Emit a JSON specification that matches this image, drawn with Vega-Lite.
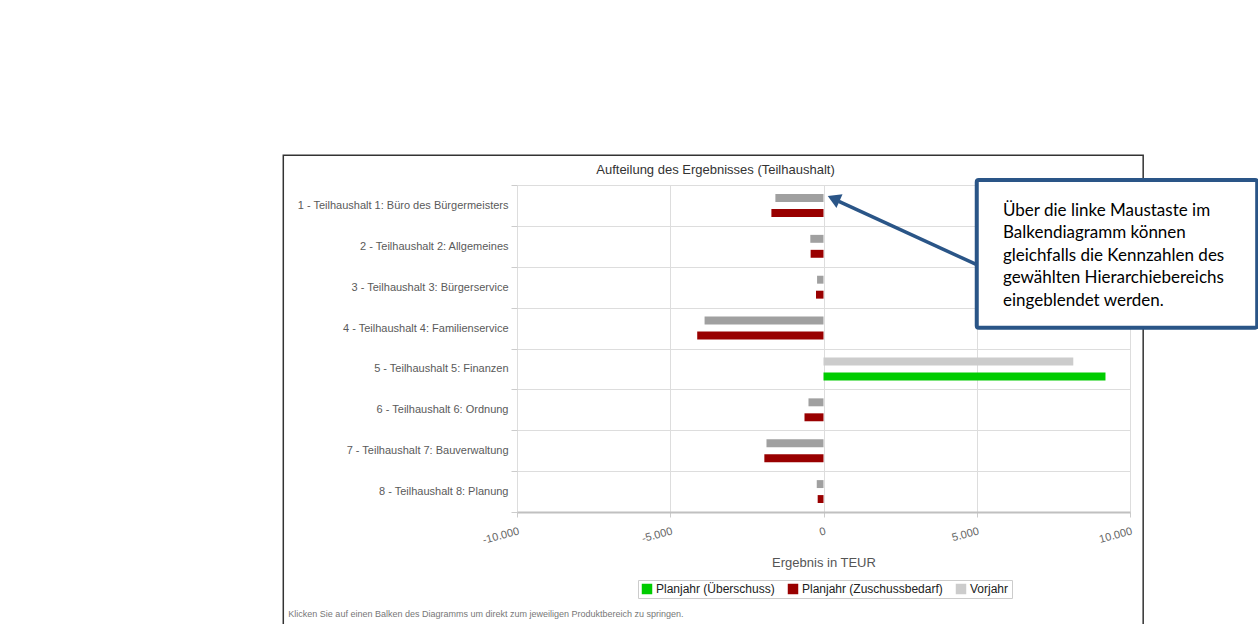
{
  "$schema": "https://vega.github.io/schema/vega-lite/v6.json",
  "width": 613,
  "height": 327,
  "autosize": {"type": "none"},
  "padding": {"left": 517, "top": 185, "right": 128, "bottom": 112},
  "background": "white",
  "config": {
    "locale": {"number": {"decimal": ",", "thousands": ".", "grouping": [3], "currency": ["", " €"], "minus": "-"}},
    "view": {"stroke": null},
    "font": "Liberation Sans"
  },
  "title": {
    "text": "Aufteilung des Ergebnisses (Teilhaushalt)",
    "anchor": "middle",
    "frame": "group",
    "dx": -108,
    "dy": 46,
    "offset": 10,
    "baseline": "bottom",
    "fontSize": 13,
    "fontWeight": "normal",
    "color": "#333333",
    "font": "Liberation Sans"
  },
  "layer": [
    {
      "data": {
        "values": [
          {"bereich": "1 - Teilhaushalt 1: Büro des Bürgermeisters", "zeitraum": "Vorjahr", "serie": "Vorjahr (Zuschussbedarf)", "wert": -1570},
          {"bereich": "1 - Teilhaushalt 1: Büro des Bürgermeisters", "zeitraum": "Planjahr", "serie": "Planjahr (Zuschussbedarf)", "wert": -1700},
          {"bereich": "2 - Teilhaushalt 2: Allgemeines", "zeitraum": "Vorjahr", "serie": "Vorjahr (Zuschussbedarf)", "wert": -430},
          {"bereich": "2 - Teilhaushalt 2: Allgemeines", "zeitraum": "Planjahr", "serie": "Planjahr (Zuschussbedarf)", "wert": -420},
          {"bereich": "3 - Teilhaushalt 3: Bürgerservice", "zeitraum": "Vorjahr", "serie": "Vorjahr (Zuschussbedarf)", "wert": -210},
          {"bereich": "3 - Teilhaushalt 3: Bürgerservice", "zeitraum": "Planjahr", "serie": "Planjahr (Zuschussbedarf)", "wert": -245},
          {"bereich": "4 - Teilhaushalt 4: Familienservice", "zeitraum": "Vorjahr", "serie": "Vorjahr (Zuschussbedarf)", "wert": -3880},
          {"bereich": "4 - Teilhaushalt 4: Familienservice", "zeitraum": "Planjahr", "serie": "Planjahr (Zuschussbedarf)", "wert": -4120},
          {"bereich": "5 - Teilhaushalt 5: Finanzen", "zeitraum": "Vorjahr", "serie": "Vorjahr", "wert": 8150},
          {"bereich": "5 - Teilhaushalt 5: Finanzen", "zeitraum": "Planjahr", "serie": "Planjahr (Überschuss)", "wert": 9200},
          {"bereich": "6 - Teilhaushalt 6: Ordnung", "zeitraum": "Vorjahr", "serie": "Vorjahr (Zuschussbedarf)", "wert": -490},
          {"bereich": "6 - Teilhaushalt 6: Ordnung", "zeitraum": "Planjahr", "serie": "Planjahr (Zuschussbedarf)", "wert": -620},
          {"bereich": "7 - Teilhaushalt 7: Bauverwaltung", "zeitraum": "Vorjahr", "serie": "Vorjahr (Zuschussbedarf)", "wert": -1860},
          {"bereich": "7 - Teilhaushalt 7: Bauverwaltung", "zeitraum": "Planjahr", "serie": "Planjahr (Zuschussbedarf)", "wert": -1930},
          {"bereich": "8 - Teilhaushalt 8: Planung", "zeitraum": "Vorjahr", "serie": "Vorjahr (Zuschussbedarf)", "wert": -220},
          {"bereich": "8 - Teilhaushalt 8: Planung", "zeitraum": "Planjahr", "serie": "Planjahr (Zuschussbedarf)", "wert": -190}
        ]
      },
      "mark": {"type": "bar"},
      "encoding": {
        "y": {
          "field": "bereich",
          "type": "nominal",
          "sort": null,
          "scale": {
            "domain": [
              "1 - Teilhaushalt 1: Büro des Bürgermeisters",
              "2 - Teilhaushalt 2: Allgemeines",
              "3 - Teilhaushalt 3: Bürgerservice",
              "4 - Teilhaushalt 4: Familienservice",
              "5 - Teilhaushalt 5: Finanzen",
              "6 - Teilhaushalt 6: Ordnung",
              "7 - Teilhaushalt 7: Bauverwaltung",
              "8 - Teilhaushalt 8: Planung"
            ],
            "paddingInner": 0,
            "paddingOuter": 0
          },
          "axis": {
            "title": null,
            "domain": false,
            "tickBand": "extent",
            "ticks": true,
            "tickSize": 6,
            "tickColor": "#cccccc",
            "grid": true,
            "gridColor": "#dddddd",
            "labelFontSize": 11,
            "labelColor": "#5a5a5a",
            "labelPadding": 3,
            "labelLimit": 300
          }
        },
        "yOffset": {
          "field": "zeitraum",
          "type": "nominal",
          "sort": ["Vorjahr", "Planjahr"],
          "scale": {"domain": ["Vorjahr", "Planjahr"], "paddingInner": 0.47, "paddingOuter": 0.6}
        },
        "x": {
          "field": "wert",
          "type": "quantitative",
          "title": "Ergebnis in TEUR",
          "scale": {"domain": [-10000, 10000], "nice": false},
          "axis": {
            "values": [-10000, -5000, 0, 5000, 10000],
            "format": ",d",
            "labelAngle": -15,
            "labelAlign": "right",
            "labelBaseline": "top",
            "labelPadding": 8,
            "labelColor": "#666666",
            "labelFontSize": 11,
            "grid": true,
            "gridColor": "#dddddd",
            "domainColor": "#c0c0c0",
            "domainWidth": 2,
            "tickColor": "#cccccc",
            "tickSize": 5,
            "titleColor": "#555555",
            "titleFontSize": 13,
            "titleFontWeight": "normal",
            "titlePadding": 11
          }
        },
        "color": {
          "field": "serie",
          "type": "nominal",
          "scale": {
            "domain": ["Planjahr (Überschuss)", "Planjahr (Zuschussbedarf)", "Vorjahr", "Vorjahr (Zuschussbedarf)"],
            "range": ["#00cc00", "#990000", "#cccccc", "#a0a0a0"]
          },
          "legend": {
            "orient": "none",
            "legendX": 121,
            "legendY": 395,
            "direction": "horizontal",
            "title": null,
            "values": ["Planjahr (Überschuss)", "Planjahr (Zuschussbedarf)", "Vorjahr"],
            "symbolType": "square",
            "symbolSize": 110,
            "symbolStrokeWidth": 0,
            "labelFontSize": 12,
            "labelColor": "#222222",
            "labelOffset": 3,
            "columnPadding": 12,
            "strokeColor": "#cccccc",
            "padding": 3
          }
        }
      }
    },
    {
      "data": {"values": [{"note": "panel"}]},
      "mark": {"type": "rect", "fill": null, "fillOpacity": 0, "stroke": "#333333", "strokeWidth": 1.5},
      "encoding": {
        "x": {"datum": -17625},
        "x2": {"datum": 10430},
        "y": {"datum": "1 - Teilhaushalt 1: Büro des Bürgermeisters", "bandPosition": -0.73},
        "y2": {"datum": "8 - Teilhaushalt 8: Planung", "bandPosition": 3.8}
      }
    },
    {
      "data": {"values": [{"note": "box"}]},
      "mark": {"type": "rect", "fill": "white", "stroke": "#2a5587", "strokeWidth": 4, "cornerRadius": 2},
      "encoding": {
        "x": {"datum": 5000},
        "x2": {"datum": 14150},
        "y": {"datum": "1 - Teilhaushalt 1: Büro des Bürgermeisters", "bandPosition": -0.12},
        "y2": {"datum": "4 - Teilhaushalt 4: Familienservice", "bandPosition": 0.49}
      }
    },
    {
      "data": {"values": [{"t": ["Über die linke Maustaste im", "Balkendiagramm können", "gleichfalls die Kennzahlen des", "gewählten Hierarchiebereichs", "eingeblendet werden."]}]},
      "mark": {"type": "text", "align": "left", "baseline": "alphabetic", "font": "Lato", "fontSize": 17, "lineHeight": 22.5, "color": "#000000"},
      "encoding": {
        "x": {"datum": 5855},
        "y": {"datum": "1 - Teilhaushalt 1: Büro des Bürgermeisters", "bandPosition": 0.75},
        "text": {"field": "t"}
      }
    },
    {
      "data": {"values": [{"note": "arrow"}]},
      "mark": {"type": "rule", "stroke": "#2a5587", "strokeWidth": 3.5},
      "encoding": {
        "x": {"datum": 5000},
        "x2": {"datum": 500},
        "y": {"datum": "2 - Teilhaushalt 2: Allgemeines", "bandPosition": 0.95},
        "y2": {"datum": "1 - Teilhaushalt 1: Büro des Bürgermeisters", "bandPosition": 0.4}
      }
    },
    {
      "data": {"values": [{"note": "arrowhead"}]},
      "mark": {"type": "point", "shape": "triangle-left", "filled": true, "size": 220, "angle": 24, "color": "#2a5587", "opacity": 1},
      "encoding": {
        "x": {"datum": 330},
        "y": {"datum": "1 - Teilhaushalt 1: Büro des Bürgermeisters", "bandPosition": 0.33}
      }
    },
    {
      "data": {"values": [{"t": "Klicken Sie auf einen Balken des Diagramms um direkt zum jeweiligen Produktbereich zu springen."}]},
      "mark": {"type": "text", "align": "left", "baseline": "middle", "fontSize": 9, "color": "#777777"},
      "encoding": {
        "x": {"datum": -17460},
        "y": {"datum": "8 - Teilhaushalt 8: Planung", "bandPosition": 3.49},
        "text": {"field": "t"}
      }
    }
  ]
}
